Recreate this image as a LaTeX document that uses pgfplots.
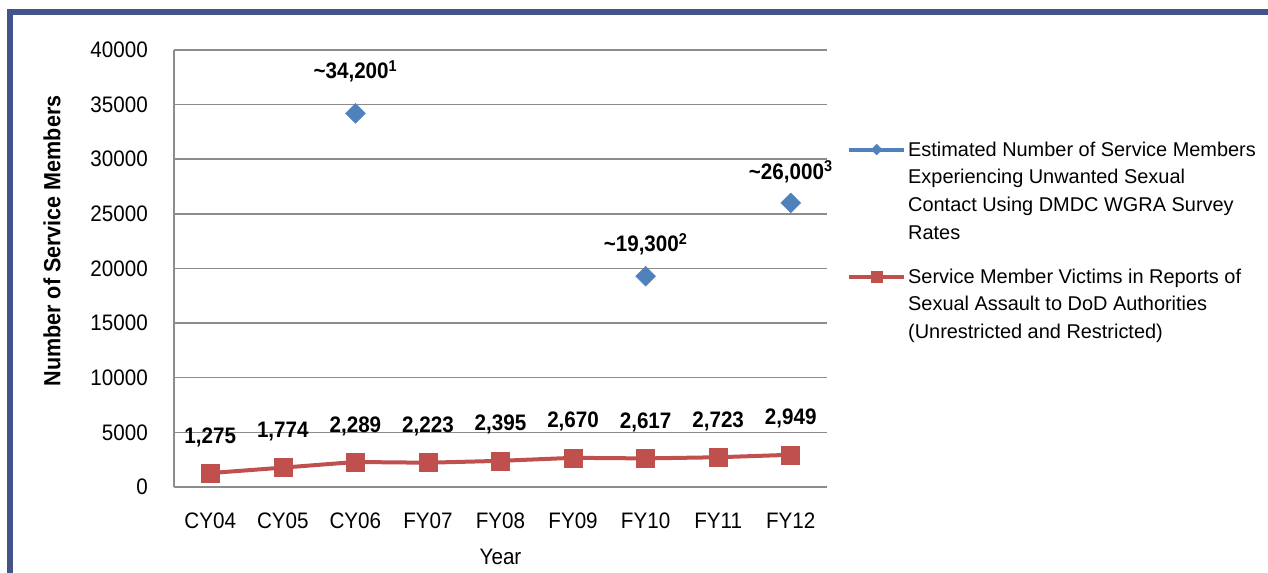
\documentclass[border=0pt]{standalone}
\usepackage{fontspec}
\setmainfont{Liberation Sans}[FakeStretch=0.92]
\newfontfamily\legfamily{Liberation Sans}
\usepackage{pgfplots}
\pgfplotsset{compat=1.18}
\definecolor{frameblue}{HTML}{44548A}
\definecolor{serblue}{HTML}{4F81BD}
\definecolor{serred}{HTML}{C0504D}
\definecolor{gridgray}{HTML}{8C8C8C}
\newcommand{\tickfont}{\fontsize{22.5}{27}\selectfont}
\newcommand{\labfont}{\fontsize{22.5}{27}\selectfont\bfseries}
\newcommand{\legfont}{\legfamily\fontsize{20}{27.8}\selectfont}
\begin{document}
\begin{tikzpicture}
\useasboundingbox (0bp,0bp) rectangle (1268bp,573bp);
\fill[frameblue] (7bp,558bp) rectangle (1268bp,564bp);
\fill[frameblue] (7bp,0bp) rectangle (13bp,564bp);
\begin{axis}[
  at={(174bp,86bp)}, anchor=south west,
  scale only axis, width=653bp, height=437bp,
  xmin=-0.5, xmax=8.5, ymin=0, ymax=40000,
  scaled y ticks=false,
  xtick={0,1,2,3,4,5,6,7,8},
  xticklabels={CY04,CY05,CY06,FY07,FY08,FY09,FY10,FY11,FY12},
  ytick={0,5000,10000,15000,20000,25000,30000,35000,40000},
  yticklabels={0,5000,10000,15000,20000,25000,30000,35000,40000},
  axis x line*=bottom, axis y line*=left,
  axis line style={gridgray, line width=1.5bp, -},
  ymajorgrids, grid style={gridgray, line width=1.5bp},
  tick style={draw=none},
  xticklabel style={font=\tickfont, anchor=center, yshift=-34bp},
  yticklabel style={font=\tickfont, anchor=east, inner sep=0pt, xshift=-26bp},
  xlabel={Year}, xlabel style={font=\tickfont, at={(rel axis cs:0.5,-0.160)}, anchor=center},
  ylabel={Number of Service Members},
  ylabel style={font=\fontsize{23.5}{28}\selectfont\bfseries, at={(rel axis cs:-0.187,0.563)}, anchor=center},
  clip=false,
  legend style={at={(rel axis cs:1.0306,0.795)}, anchor=north west, draw=none, fill=none,
    font=\legfont, cells={align=left, anchor=west}, row sep=24bp, inner sep=0pt,
    /tikz/every even column/.append style={column sep=4bp}},
  legend cell align=left,
]
\addplot[only marks, mark=square*, mark size=7bp,
  mark options={fill=serblue, draw=serblue, rotate=45, line width=0.5bp},
  point meta=explicit symbolic,
  nodes near coords,
  visualization depends on={\thisrow{off}\as\off},
  nodes near coords style={font=\labfont, anchor=center, yshift=\off bp, text=black},
  legend image code/.code={
    \path (0bp,-41.7bp) (0bp,41.7bp);
    \draw[serblue, line width=4bp] (0bp,41.7bp) -- (55bp,41.7bp);
    \draw[mark=square*, mark size=3.8bp, mark options={fill=serblue, draw=serblue, rotate=45, line width=0.5bp}] plot coordinates {(27.5bp,41.7bp)};
  },
] table[x=x, y=y, meta=lab] {
x y off lab
2 34200 42 \textasciitilde34,200\textsuperscript{1}
6 19300 32 \textasciitilde19,300\textsuperscript{2}
8 26000 31 \textasciitilde26,000\textsuperscript{3}
};
\addlegendentry{Estimated Number of Service Members\\Experiencing Unwanted Sexual\\Contact Using DMDC WGRA Survey\\Rates}
\addplot[serred, line width=4bp, mark=square*, mark size=9bp,
  mark options={fill=serred, draw=serred, line width=0.5bp},
  point meta=explicit symbolic,
  nodes near coords,
  visualization depends on={\thisrow{off}\as\off},
  nodes near coords style={font=\labfont, anchor=center, yshift=\off bp, text=black},
  legend image code/.code={
    \path (0bp,-27.8bp) (0bp,27.8bp);
    \draw[serred, line width=4bp] (0bp,27.8bp) -- (55bp,27.8bp);
    \draw[mark=square*, mark size=5.5bp, mark options={fill=serred, draw=serred, line width=0.5bp}] plot coordinates {(27.5bp,27.8bp)};
  },
] table[x=x, y=y, meta=lab] {
x y off lab
0 1275 36 1,275
1 1774 36 1,774
2 2289 36 2,289
3 2223 36 2,223
4 2395 36 2,395
5 2670 36 2,670
6 2617 36 2,617
7 2723 36 2,723
8 2949 36 2,949
};
\addlegendentry{Service Member Victims in Reports of\\Sexual Assault to DoD Authorities\\(Unrestricted and Restricted)}
\end{axis}
\end{tikzpicture}
\end{document}
